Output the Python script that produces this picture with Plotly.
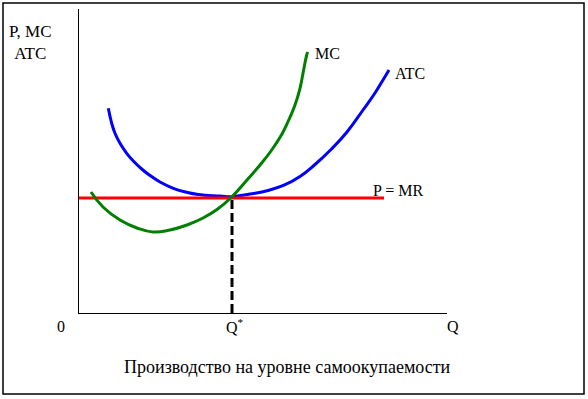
import plotly.graph_objects as go

# Quantity / cost values (arbitrary chart units, origin at axis corner)
atc_q = [29.3, 32.7, 36, 41, 47.7, 54.3, 62.7, 71, 81, 94.3, 107.7, 119.3, 141, 153, 171, 189, 205, 221, 236, 252, 268, 284, 296, 304, 310]
atc_p = [204.7, 189.7, 179.7, 169.7, 159.7, 152, 144, 137.5, 131, 124.7, 120.7, 118.5, 117, 116.3, 119, 122.5, 127.8, 136.5, 148.5, 163.5, 181, 203, 220, 233, 243]

mc_q = [12, 24, 41, 58, 74, 91, 108, 124, 138, 153, 169.3, 182.7, 192.7, 202.7, 209.3, 216, 221, 224.3, 227.7, 228.7]
mc_p = [121, 106, 93, 85, 81, 83, 88, 95, 103.5, 116.3, 134.5, 150, 163, 178.5, 192, 208, 224.7, 241.3, 258, 261]

mr_q = [0, 305]
mr_p = [115, 115]

q_star = 153
q_star_line_p = [0, 115]

x_range = [0, 368]
y_range = [0, 304]

FONT = "Liberation Serif"

fig = go.Figure()
fig.add_trace(go.Scatter(x=atc_q, y=atc_p, mode="lines",
                         line=dict(color="#0000FF", width=3, shape="spline", smoothing=1.3),
                         hoverinfo="skip", cliponaxis=False))
fig.add_trace(go.Scatter(x=mr_q, y=mr_p, mode="lines", line=dict(color="#FF0000", width=3),
                         hoverinfo="skip", cliponaxis=False))
fig.add_trace(go.Scatter(x=mc_q, y=mc_p, mode="lines",
                         line=dict(color="#008000", width=3, shape="spline", smoothing=1.3),
                         hoverinfo="skip", cliponaxis=False))
fig.add_trace(go.Scatter(x=[q_star, q_star], y=q_star_line_p, mode="lines",
                         line=dict(color="black", width=3, dash="9px,4px"), hoverinfo="skip", cliponaxis=False))

def ann(text, x, y, xanchor="center", yanchor="middle", size=16):
    # positions given in chart units, converted to paper fractions so labels outside the axes still show
    fig.add_annotation(x=x / x_range[1], y=y / y_range[1], xref="paper", yref="paper", text=text,
                       showarrow=False, xanchor=xanchor, yanchor=yanchor,
                       font=dict(family=FONT, size=size, color="black"))

ann("MC", 234, 260, xanchor="left")
ann("ATC", 314, 240, xanchor="left")
ann("P = MR", 292, 123, xanchor="left")
ann("P, MC<br>ATC", -49, 270, size=17)
ann("0", -18, -13)
ann("Q<sup>*</sup>", 145, -13, xanchor="left")
ann("Q", 374, -13)
ann("Производство на уровне самоокупаемости", 208.5, -54, size=18)

# outer frame
fig.add_shape(type="rect", xref="paper", yref="paper",
              x0=(3 - 79) / 368, x1=(584 - 79) / 368, y0=(313 - 394) / 304, y1=(313 - 3) / 304,
              line=dict(color="black", width=1.5), fillcolor="rgba(0,0,0,0)")

fig.update_xaxes(range=x_range, showgrid=False, zeroline=False, showticklabels=False, ticks="",
                 showline=True, linecolor="black", linewidth=1)
fig.update_yaxes(range=y_range, showgrid=False, zeroline=False, showticklabels=False, ticks="",
                 showline=True, linecolor="black", linewidth=1)
fig.update_layout(width=588, height=399, margin=dict(l=79, r=141, t=9, b=86, pad=0),
                  plot_bgcolor="white", paper_bgcolor="white", showlegend=False, hovermode=False)

fig.write_html("out.html", config={"displayModeBar": False},
               post_script="document.body.style.margin='0';document.body.style.overflow='hidden';")
